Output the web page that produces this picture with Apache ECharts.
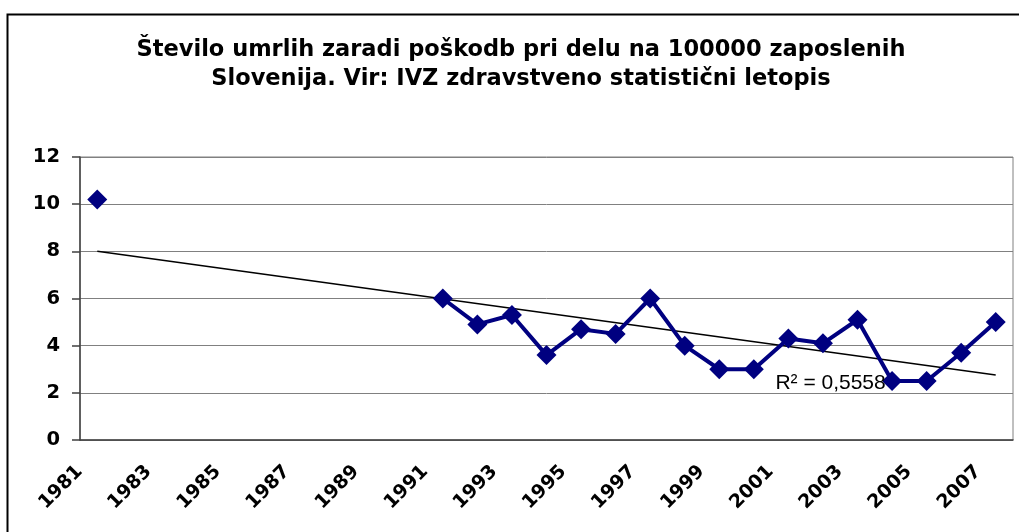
<!DOCTYPE html>
<html>
<head>
<meta charset="utf-8">
<script src="https://cdn.jsdelivr.net/npm/echarts@6/dist/echarts.min.js"></script>
<style>
  html, body { margin: 0; padding: 0; background: #fff; }
  #chart { width: 1019px; height: 532px; }
</style>
</head>
<body>
<div id="chart"></div>
<script>
// podatki, odčitani s slike
const years = ['1981', '1982', '1983', '1984', '1985', '1986', '1987', '1988', '1989',
  '1990', '1991', '1992', '1993', '1994', '1995', '1996', '1997', '1998', '1999',
  '2000', '2001', '2002', '2003', '2004', '2005', '2006', '2007'];
const deaths = [10.2, null, null, null, null, null, null, null, null,
  null, 6.0, 4.9, 5.3, 3.6, 4.7, 4.5, 6.0, 4.0, 3.0,
  3.0, 4.3, 4.1, 5.1, 2.5, 2.5, 3.7, 5.0];
const trendYears = ['1981', '2007'];
const trendValues = [8.0, 2.76];
const r2Text = 'R² = 0,5558';
const yTicks = [0, 2, 4, 6, 8, 10, 12];

const titleLines = [
  'Število umrlih zaradi poškodb pri delu na 100000 zaposlenih',
  'Slovenija. Vir: IVZ zdravstveno statistični letopis'
];

const boldFont = '"DejaVu Sans", sans-serif';
const chart = echarts.init(document.getElementById('chart'));

chart.setOption({
  backgroundColor: '#fff',
  animation: false,
  graphic: [{
    type: 'rect',
    left: 5,
    top: 12,
    shape: { width: 1040, height: 560 },
    style: { fill: 'none', stroke: '#000', lineWidth: 2 },
    z: -1
  }, {
    // naslov, centriran nad okvirjem
    type: 'text',
    x: 521,
    y: 36,
    style: {
      text: titleLines.join('\n'),
      align: 'center',
      verticalAlign: 'top',
      fontFamily: boldFont,
      fontWeight: 'bold',
      fontSize: 22.5,
      lineHeight: 29,
      fill: '#000'
    }
  }],
  grid: {
    left: 80, right: 6, top: 157, bottom: 92,
    show: true,
    borderColor: '#808080',
    borderWidth: 1,
    backgroundColor: '#fff'
  },
  xAxis: {
    type: 'category',
    data: years,
    boundaryGap: true,
    axisLine: { lineStyle: { color: '#404040', width: 1.5 } },
    axisTick: { interval: 0, length: 6, lineStyle: { color: '#404040', width: 1.5 } },
    axisLabel: {
      interval: 1,
      rotate: 45,
      margin: 11,
      padding: [0, 25, 0, 0],
      color: '#000',
      fontFamily: boldFont,
      fontWeight: 'bold',
      fontSize: 19
    },
    splitLine: { show: false }
  },
  yAxis: {
    type: 'value',
    min: yTicks[0],
    max: yTicks[yTicks.length - 1],
    interval: yTicks[1] - yTicks[0],
    axisLine: { show: true, lineStyle: { color: '#404040', width: 1.5 } },
    axisTick: { show: true, length: 8, lineStyle: { color: '#404040', width: 1.5 } },
    axisLabel: {
      margin: 20,
      color: '#000',
      fontFamily: boldFont,
      fontWeight: 'bold',
      fontSize: 19.5
    },
    splitLine: { lineStyle: { color: '#808080', width: 1 } }
  },
  series: [
    {
      name: 'trend',
      type: 'line',
      data: trendYears.map((y, i) => [y, trendValues[i]]),
      symbol: 'none',
      lineStyle: { color: '#000', width: 1.5 },
      z: 3,
      markPoint: {
        symbol: 'circle',
        symbolSize: 0,
        data: [{ coord: ['2001', 2.42] }],
        label: {
          show: true,
          formatter: r2Text,
          position: 'inside',
          align: 'left',
          offset: [-13, 0],
          color: '#000',
          fontFamily: '"Liberation Sans", Arial, sans-serif',
          fontSize: 21
        }
      }
    },
    {
      name: 'umrli',
      type: 'line',
      data: deaths,
      connectNulls: false,
      symbol: 'diamond',
      symbolSize: 20,
      lineStyle: { color: '#000080', width: 4 },
      itemStyle: { color: '#000080' },
      z: 4
    }
  ]
});
</script>
</body>
</html>
